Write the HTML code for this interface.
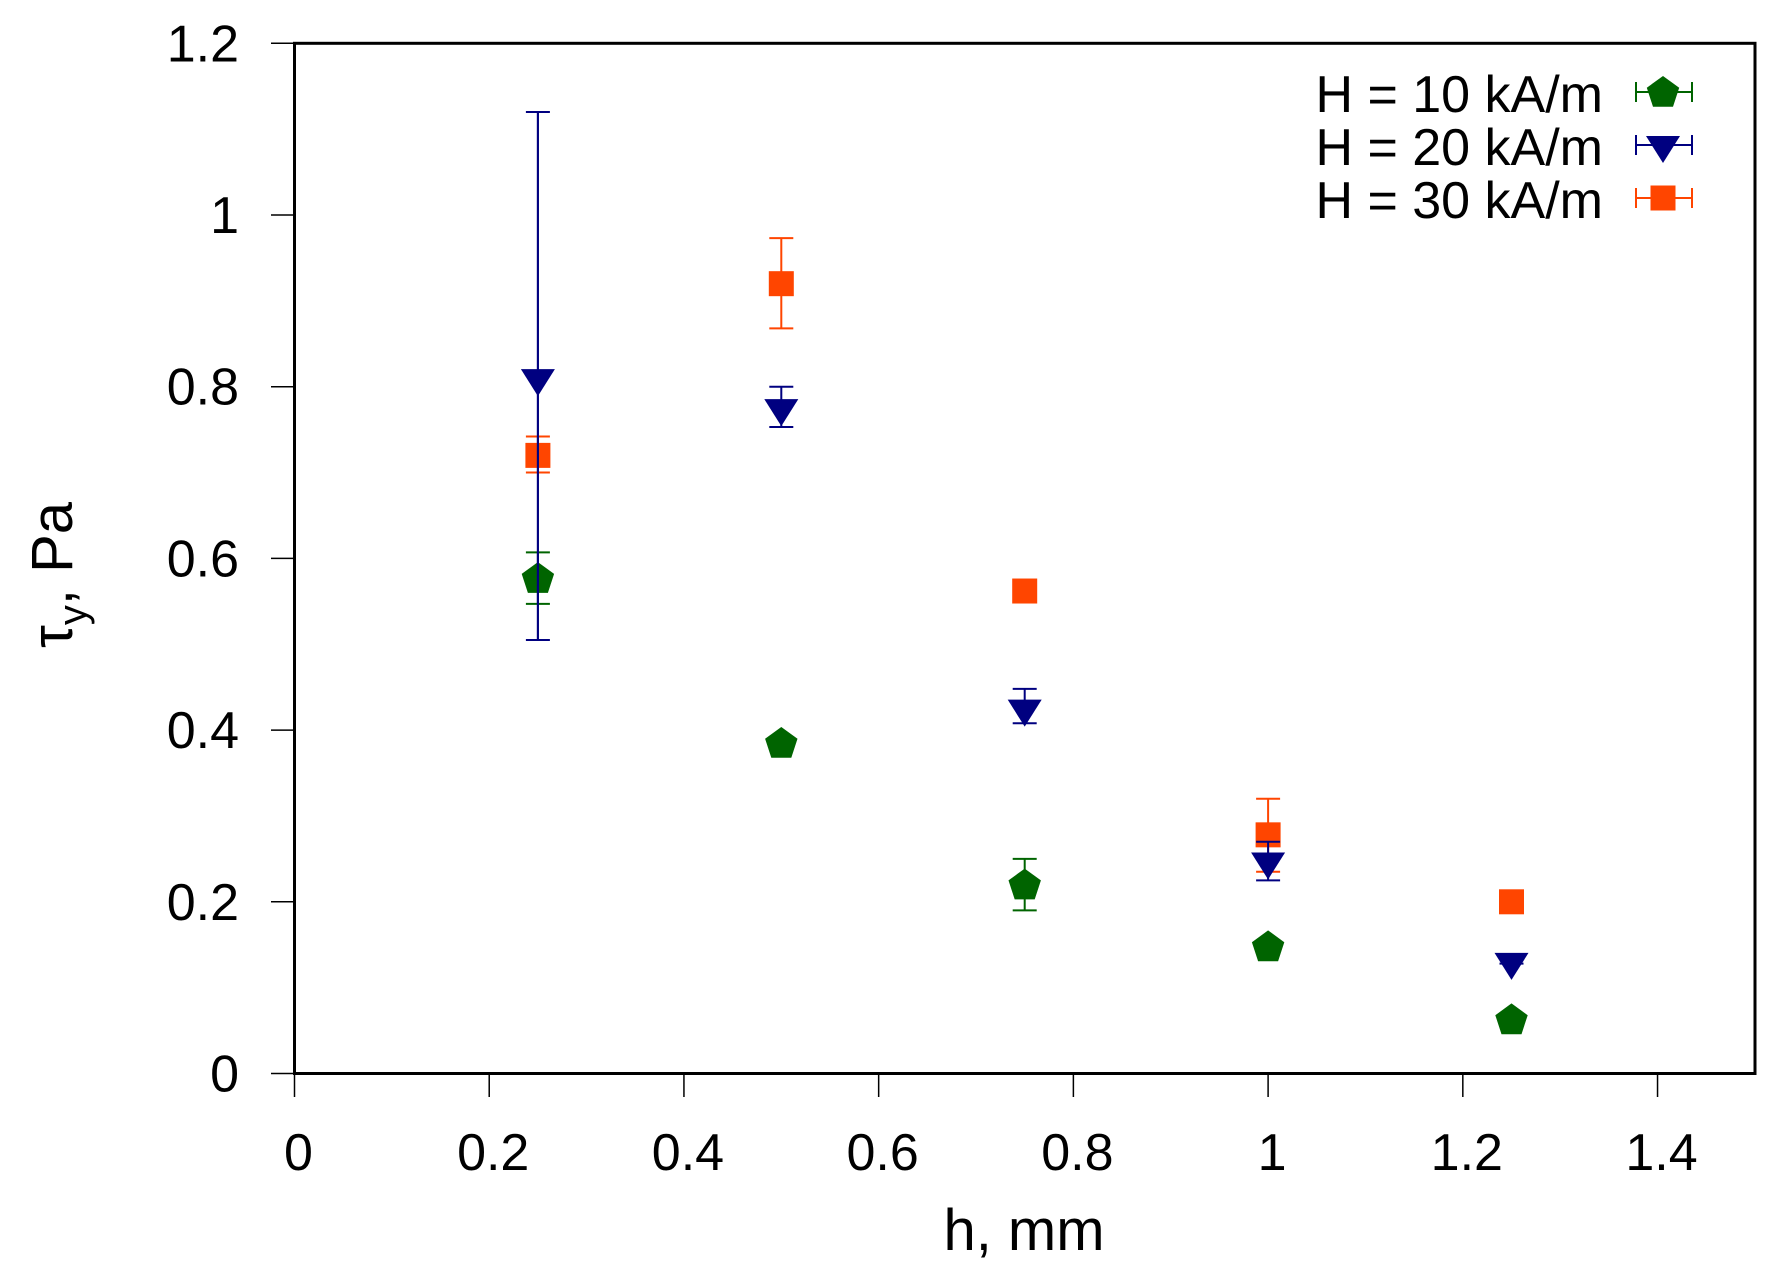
<!DOCTYPE html>
<html><head><meta charset="utf-8"><style>html,body{margin:0;padding:0;background:#fff}svg{display:block}</style></head>
<body>
<svg id="s" width="1787" height="1275" xmlns="http://www.w3.org/2000/svg" font-family="Liberation Sans, sans-serif">
<rect width="1787" height="1275" fill="#fff"/>
<g id="ticks" stroke="#000" stroke-width="1.5"></g>
<g id="data"></g>
<rect x="294.5" y="43.3" width="1460.5" height="1030.2" fill="none" stroke="#000" stroke-width="3"/>
<g id="labels" font-size="52" fill="#000"></g>
<g font-size="52" fill="#000" text-anchor="end">
<text x="1603" y="112">H = 10 kA/m</text>
<text x="1603" y="165">H = 20 kA/m</text>
<text x="1603" y="218">H = 30 kA/m</text>
</g>
<text x="1024" y="1250" font-size="58" text-anchor="middle">h, mm</text>
<text transform="translate(72,575) rotate(-90)" font-size="58" text-anchor="middle">τ<tspan font-size="40" dy="14">y</tspan><tspan dy="-14">, Pa</tspan></text>
</svg>
<script>
const NS="http://www.w3.org/2000/svg";
const X=v=>294.5+v*973.6, Y=v=>1073.5-v*858.5;
function el(p,t,a){const e=document.createElementNS(NS,t);for(const k in a)e.setAttribute(k,a[k]);document.getElementById(p).appendChild(e);return e;}
const tk="ticks",lb="labels";
for(let i=0;i<=7;i++){const v=i*0.2,x=X(v);el(tk,"line",{x1:x,y1:1073.5,x2:x,y2:1097});
 const t=el(lb,"text",{x:x+4,y:1170,"text-anchor":"middle"});t.textContent=(i==0?"0":(+v.toFixed(1)).toString());}
for(let i=0;i<=6;i++){const v=i*0.2,y=Y(v);el(tk,"line",{x1:271,y1:y,x2:294.5,y2:y});
 const t=el(lb,"text",{x:239,y:y+18,"text-anchor":"end"});t.textContent=(i==0?"0":(+v.toFixed(1)).toString());}
const G="#006400",B="#000080",O="#ff4500";
function pent(cx,cy,c,p){const r=17;let pts=[];for(let k=0;k<5;k++){const a=-Math.PI/2+k*2*Math.PI/5;pts.push((cx+r*Math.cos(a)).toFixed(1)+","+(cy+r*Math.sin(a)+1).toFixed(1));}el(p,"polygon",{points:pts.join(" "),fill:c});}
function tri(cx,cy,c,p){el(p,"polygon",{points:`${cx-17},${cy-9} ${cx+17},${cy-9} ${cx},${cy+18}`,fill:c});}
function sq(cx,cy,c,p){el(p,"rect",{x:cx-12.5,y:cy-12.5,width:25,height:25,fill:c});}
function eb(x,lo,hi,c){const a=Y(lo),b=Y(hi);el("data","line",{x1:x,y1:a,x2:x,y2:b,stroke:c,"stroke-width":2});
 el("data","line",{x1:x-12,y1:a,x2:x+12,y2:a,stroke:c,"stroke-width":2});el("data","line",{x1:x-12,y1:b,x2:x+12,y2:b,stroke:c,"stroke-width":2});}
const green=[[0.25,0.577,0.547,0.607],[0.5,0.385,0.38,0.39],[0.75,0.22,0.19,0.25],[1,0.148,0.148,0.148],[1.25,0.063,0.063,0.063]];
const blue=[[0.25,0.81,0.505,1.12],[0.5,0.775,0.753,0.8],[0.75,0.425,0.408,0.448],[1,0.247,0.225,0.27],[1.25,0.13,0.128,0.132]];
const orange=[[0.25,0.72,0.70,0.742],[0.5,0.92,0.868,0.973],[0.75,0.562,0.562,0.562],[1,0.278,0.235,0.32],[1.25,0.2,0.2,0.2]];
for(const d of green){eb(X(d[0]),d[2],d[3],G);pent(X(d[0]),Y(d[1]),G,"data");}
for(const d of orange){eb(X(d[0]),d[2],d[3],O);sq(X(d[0]),Y(d[1]),O,"data");}
for(const d of blue){eb(X(d[0]),d[2],d[3],B);tri(X(d[0]),Y(d[1]),B,"data");}
el("data","line",{x1:X(0.25),y1:Y(0.505),x2:X(0.25),y2:Y(1.12),stroke:B,"stroke-width":2});
function leg(cy,c,f){el("data","line",{x1:1636,y1:cy,x2:1692,y2:cy,stroke:c,"stroke-width":2});
 el("data","line",{x1:1636,y1:cy-10,x2:1636,y2:cy+10,stroke:c,"stroke-width":2});el("data","line",{x1:1692,y1:cy-10,x2:1692,y2:cy+10,stroke:c,"stroke-width":2});f(1663,cy,c,"data");}
leg(92,G,pent);leg(145,B,tri);leg(198,O,sq);
</script>
</body></html>
